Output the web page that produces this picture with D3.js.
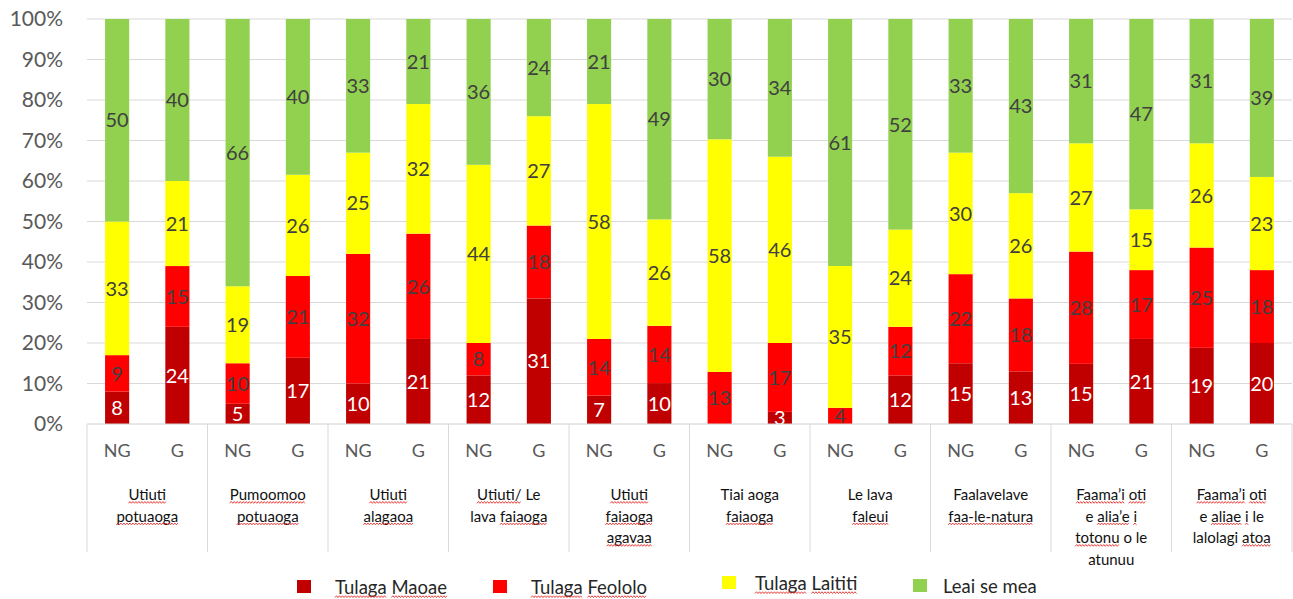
<!DOCTYPE html>
<html>
<head>
<meta charset="utf-8">
<script src="https://cdn.jsdelivr.net/npm/d3@7"></script>
<style>
  body { margin: 0; background: #fff; }
  svg { font-family: Lato, "Open Sans", sans-serif; }
</style>
</head>
<body>
<div id="chart"></div>
<script>
// categories (each one split in the lines shown under the axis)
var categories = [
  ["Utiuti", "potuaoga"],
  ["Pumoomoo", "potuaoga"],
  ["Utiuti", "alagaoa"],
  ["Utiuti/ Le", "lava faiaoga"],
  ["Utiuti", "faiaoga", "agavaa"],
  ["Tiai aoga", "faiaoga"],
  ["Le lava", "faleui"],
  ["Faalavelave", "faa-le-natura"],
  ["Faama\u2019i oti", "e alia\u2019e i", "totonu o le", "atunuu"],
  ["Faama\u2019i oti", "e aliae i le", "lalolagi atoa"]
];
var groups = ["NG", "G"];

// series values, NG then G for each category
var maoae   = [8, 24, 5, 17, 10, 21, 12, 31, 7, 10, 0, 3, 0, 12, 15, 13, 15, 21, 19, 20];
var feololo = [9, 15, 10, 21, 32, 26, 8, 18, 14, 14, 13, 17, 4, 12, 22, 18, 28, 17, 25, 18];
var laititi = [33, 21, 19, 26, 25, 32, 44, 27, 58, 26, 58, 46, 35, 24, 30, 26, 27, 15, 26, 23];
var leai    = [50, 40, 66, 40, 33, 21, 36, 24, 21, 49, 30, 34, 61, 52, 33, 43, 31, 47, 31, 39];

var seriesNames = ["Tulaga Maoae", "Tulaga Feololo", "Tulaga Laititi", "Leai se mea"];
var yTicks = [0, 0.1, 0.2, 0.3, 0.4, 0.5, 0.6, 0.7, 0.8, 0.9, 1];

// words carrying the spell-check squiggle in the original
var flagged = ["Utiuti", "potuaoga", "Pumoomoo", "alagaoa", "Utiuti/", "faiaoga", "agavaa",
  "faleui", "faa-le-natura", "Faama\u2019i", "oti", "alia\u2019e", "i", "totonu", "aliae", "atoa",
  "Tulaga", "Maoae", "Feololo", "Laititi"];

var colors = ["#c00000", "#ff0000", "#ffff00", "#92d050"];
var keys = ["maoae", "feololo", "laititi", "leai"];

var rows = [];
categories.forEach(function(c, i) {
  groups.forEach(function(g, j) {
    var k = i * 2 + j;
    rows.push({cat: i, grp: g, maoae: maoae[k], feololo: feololo[k], laititi: laititi[k], leai: leai[k]});
  });
});

var W = 1293, H = 599;
var margin = {top: 19, right: 1, bottom: 175, left: 87};
var width = W - margin.left - margin.right,
    height = H - margin.top - margin.bottom;

var svg = d3.select("#chart").append("svg")
    .attr("width", W)
    .attr("height", H);
var g = svg.append("g")
    .attr("transform", "translate(" + margin.left + "," + margin.top + ")");

var x0 = d3.scaleBand().domain(d3.range(categories.length)).range([0, width]);
var x1 = d3.scaleBand().domain(groups).range([0, x0.bandwidth()])
    .paddingInner(0.6).paddingOuter(0.3);
var y = d3.scaleLinear().domain([0, 1]).range([height, 0]);

// gridlines
g.append("g")
  .selectAll("line")
  .data(yTicks.slice(1))
  .enter().append("line")
    .attr("x1", 0).attr("x2", width)
    .attr("y1", function(d) { return y(d); })
    .attr("y2", function(d) { return y(d); })
    .attr("stroke", "#d9d9d9");

// y axis labels
var yAxis = g.append("g")
    .call(d3.axisLeft(y).tickValues(yTicks).tickFormat(d3.format(".0%")).tickSize(0).tickPadding(24));
yAxis.select(".domain").remove();
yAxis.selectAll("text")
    .attr("font-family", "Lato, sans-serif")
    .attr("font-size", 21)
    .attr("fill", "#595959");

// stacked bars
var stack = d3.stack().keys(keys).offset(d3.stackOffsetExpand);
var layers = stack(rows);

var layer = g.selectAll(".layer")
  .data(layers)
  .enter().append("g")
    .attr("class", "layer")
    .attr("fill", function(d, i) { return colors[i]; });

layer.selectAll("rect")
  .data(function(d) { return d; })
  .enter().append("rect")
    .attr("x", function(d) { return x0(d.data.cat) + x1(d.data.grp); })
    .attr("width", x1.bandwidth())
    .attr("y", function(d) { return y(d[1]); })
    .attr("height", function(d) { return y(d[0]) - y(d[1]); });

// value labels
layers.forEach(function(ly, li) {
  g.append("g")
    .selectAll("text")
    .data(ly.filter(function(d) { return d.data[ly.key] > 0; }))
    .enter().append("text")
      .attr("x", function(d) { return x0(d.data.cat) + x1(d.data.grp) + x1.bandwidth() / 2; })
      .attr("y", function(d) { return y((d[0] + d[1]) / 2); })
      .attr("dy", "0.36em")
      .attr("text-anchor", "middle")
      .attr("font-size", 20)
      .attr("fill", li === 0 ? "#ffffff" : "#404040")
      .text(function(d) { return d.data[ly.key]; });
});

// category axis: base line and separators
g.append("line")
    .attr("x1", 0).attr("x2", width)
    .attr("y1", height).attr("y2", height)
    .attr("stroke", "#d0d0d0");

g.append("g")
  .selectAll("line")
  .data(d3.range(categories.length + 1))
  .enter().append("line")
    .attr("x1", function(d) { return d < categories.length ? x0(d) : width; })
    .attr("x2", function(d) { return d < categories.length ? x0(d) : width; })
    .attr("y1", height).attr("y2", height + 128)
    .attr("stroke", "#d9d9d9");

// NG / G labels
g.append("g")
  .selectAll("text")
  .data(rows)
  .enter().append("text")
    .attr("x", function(d) { return x0(d.cat) + x1(d.grp) + x1.bandwidth() / 2; })
    .attr("y", height + 27)
    .attr("dy", "0.36em")
    .attr("text-anchor", "middle")
    .attr("font-size", 18)
    .attr("fill", "#595959")
    .text(function(d) { return d.grp; });

var squiggles = [];
function addWords(textSel, line) {
  var words = line.split(" ");
  words.forEach(function(w, i) {
    var ts = textSel.append("tspan").text(w);
    if (flagged.indexOf(w) >= 0) squiggles.push(ts.node());
    if (i < words.length - 1) textSel.append("tspan").text(" ");
  });
}

// category labels
var catG = g.append("g")
  .selectAll("g")
  .data(categories)
  .enter().append("g")
    .attr("transform", function(d, i) {
      return "translate(" + (x0(i) + x0.bandwidth() / 2) + "," + (height + 71) + ")";
    });

catG.each(function(lines) {
  var sel = d3.select(this);
  lines.forEach(function(line, li) {
    var t = sel.append("text")
      .attr("y", li * 21.5)
      .attr("dy", "0.36em")
      .attr("text-anchor", "middle")
      .attr("font-size", 15)
      .attr("fill", "#111");
    addWords(t, line);
  });
});

// legend
var legendX = [297, 493, 722, 913];
var legendY = [587, 587, 583, 586];
var legend = svg.append("g")
  .selectAll("g")
  .data(seriesNames)
  .enter().append("g")
    .attr("transform", function(d, i) { return "translate(" + legendX[i] + "," + legendY[i] + ")"; });

legend.append("rect")
    .attr("x", 0).attr("y", -7)
    .attr("width", 14).attr("height", 13)
    .attr("fill", function(d, i) { return colors[i]; });

legend.append("text")
    .attr("x", function(d, i) { return i === 3 ? 30 : (i === 2 ? 33 : 38); })
    .attr("dy", "0.36em")
    .attr("font-size", 18.5)
    .attr("fill", "#262626")
    .each(function(d) { addWords(d3.select(this), d); });

// spell-check squiggles under flagged words
var svgBox = svg.node().getBoundingClientRect();
var wavy = svg.append("g").attr("fill", "none").attr("stroke", "#e8302c").attr("stroke-width", 0.9);
squiggles.forEach(function(node) {
  var r = node.getBoundingClientRect();
  var x = r.left - svgBox.left, x2 = r.right - svgBox.left;
  var yb = r.bottom - svgBox.top - 1;
  var pts = [], k = 0;
  for (var xx = x; xx <= x2; xx += 1.5, k++) pts.push([xx, yb + (k % 2 ? -0.9 : 0.9)]);
  wavy.append("path").attr("d", d3.line()(pts));
});
</script>
</body>
</html>
